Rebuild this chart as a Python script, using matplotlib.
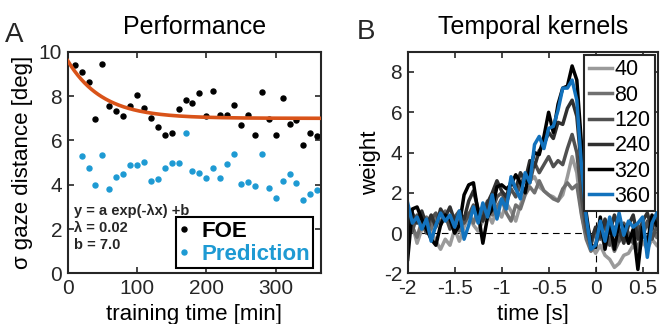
import numpy as np
import matplotlib
matplotlib.use("Agg")
import matplotlib.pyplot as plt

plt.rcParams["font.family"] = ["Liberation Sans", "DejaVu Sans"]
plt.rcParams["axes.unicode_minus"] = False

# === Panel A data ===
train_time = [10, 20, 30, 40, 50, 60, 70, 80, 90, 100, 110, 120, 130, 140, 150, 160, 170, 180,
              190, 200, 210, 220, 230, 240, 250, 260, 270, 280, 290, 300, 310, 320, 330, 340, 350, 360]
foe = [9.40, 9.07, 8.62, 6.95, 9.44, 7.55, 7.31, 7.09, 7.57, 8.05, 7.46, 7.00, 6.59, 6.27, 6.36, 7.41,
       7.83, 7.69, 8.15, 7.09, 8.24, 7.14, 7.14, 7.61, 6.72, 7.13, 6.24, 8.17, 6.98, 6.24, 7.91, 6.75,
       6.92, 5.79, 6.36, 6.21]
pred_time = train_time[1:]
prediction = [5.28, 4.78, 3.97, 5.35, 3.79, 4.33, 4.47, 4.89, 4.89, 5.02, 4.17, 4.24, 4.75, 4.98,
              4.98, 6.32, 4.63, 4.54, 4.29, 4.78, 4.29, 4.93, 5.37, 4.02, 4.14, 3.94, 5.40, 3.85,
              3.42, 4.17, 4.50, 4.06, 3.33, 3.57, 3.76]
fit_a, fit_lambda, fit_b = 2.6, 0.02, 7.0

# === Panel B data ===
kernel_t = np.round(np.arange(-2.0, 0.70, 0.05), 2)
kernel_labels = ["40", "80", "120", "240", "320", "360"]
k40 = [-0.3, 0.4, -0.5, 0.2, 0.7, 0.1, -0.4, -0.8, -0.3, -0.6, 0.2, -0.4, 0.3, 0.9, 0.4, 0.1, 0.6, 1.0,
       0.5, 1.2, 0.8, 1.5, 1.1, 0.6, 1.4, 2.0, 2.6, 2.8, 2.3, 2.1, 1.9, 1.8, 1.6, 1.9, 2.8, 3.8, 3.0, 1.0,
       -0.2, -0.5, -1.0, -0.6, -1.1, -1.3, -1.7, -1.5, -1.1, -1.0, -0.6, -1.0, -0.4, -0.8, -0.3, -0.6]
k80 = [0.9, 0.3, -0.2, 0.6, 0.8, 0.2, 0.9, 0.5, 1.1, 0.4, 0.7, 0.1, 0.6, 1.0, 0.5, 1.2, 0.7, 1.4,
       0.9, 1.3, 1.7, 1.0, 0.6, 1.4, 1.2, 1.9, 2.3, 2.0, 2.6, 2.1, 1.9, 1.7, 1.6, 2.2, 2.5, 2.2, 2.4, 0.9,
       -0.3, -0.9, -0.6, 0.1, -0.7, -0.2, -0.9, -0.4, 0.2, -0.5, -0.1, -0.8, 0.0, -0.4, 0.3, -0.2]
k120 = [0.6, 0.1, 0.9, 0.5, 0.0, 0.7, 1.0, 0.4, 0.9, 0.2, 0.8, 1.1, 0.5, 0.9, 1.4, 0.6, 1.0, 1.6,
        1.1, 1.8, 2.0, 1.5, 2.2, 1.8, 2.4, 2.9, 2.5, 3.5, 3.0, 3.4, 3.8, 3.3, 3.6, 3.4, 4.2, 4.9, 4.0, 1.8,
        0.1, -0.6, 0.2, -0.3, 0.5, -0.6, 0.3, -0.4, 0.5, 0.0, -0.5, 0.4, -0.2, 0.6, -0.3, 0.3]
k240 = [0.2, 1.0, 0.5, 1.1, 0.4, 0.9, 0.3, 1.2, 0.8, 1.3, 0.6, 1.0, 0.7, 1.6, 2.1, 1.2, 0.6, 1.5,
        2.0, 2.6, 2.1, 1.8, 2.6, 2.2, 3.0, 2.6, 3.6, 3.3, 4.1, 4.4, 5.0, 4.7, 5.5, 5.4, 6.2, 6.6, 5.8, 3.2,
        0.6, -0.4, 0.3, -0.2, 0.7, 0.0, 0.9, 0.2, -0.5, 0.4, 0.9, -0.3, 0.6, 1.0, 0.2, 0.8]
k320 = [-1.3, 1.2, 1.3, 0.7, 0.2, -0.3, -0.6, 0.4, 0.9, 0.7, 0.0, 0.4, 1.9, 2.4, 2.5, 1.0, -0.5, 0.8,
        1.2, 2.3, 2.4, 2.2, 2.4, 2.9, 2.5, 2.0, 3.2, 4.0, 3.9, 4.8, 6.0, 5.0, 6.4, 7.2, 7.3, 8.3, 7.6, 4.4,
        1.0, -0.6, -0.7, 0.8, -0.8, 0.5, -0.8, 0.6, 0.3, -0.5, 0.2, -1.8, 0.3, -0.6, 0.9, 0.4]
k360 = [1.5, 0.5, 0.8, 0.2, 0.7, -0.4, 0.4, 1.0, 0.6, 0.9, 0.3, 1.1, -0.3, 0.4, 1.3, 0.5, 1.5, 0.8,
        1.9, 0.7, 1.7, 1.2, 2.8, 2.2, 1.7, 3.0, 2.5, 4.4, 4.8, 4.2, 5.2, 5.3, 6.1, 7.2, 7.2, 7.6, 6.6, 3.3,
        0.8, -0.8, -0.6, 0.6, -0.4, 0.8, -0.1, 1.0, -0.1, 0.6, 0.3, 0.5, 0.8, -1.2, 0.5, 1.0]
kernels = [k40, k80, k120, k240, k320, k360]
kernel_colors = ["#9a9a9a", "#707070", "#505050", "#303030", "#000000", "#1272bd"]

frame = "#262626"
blue_pts = "#1e9ad3"

fig = plt.figure(figsize=(6.6, 3.24), dpi=100)
axA = fig.add_axes([0.1026, 0.156, 0.3833, 0.684])
axB = fig.add_axes([0.6177, 0.156, 0.3797, 0.684])

# === Panel A ===
axA.plot(train_time, foe, "o", color="black", markersize=3.6, label="FOE")
axA.plot(pred_time, prediction, "o", color=blue_pts, markersize=3.6, label="Prediction")
xfit = np.linspace(0, 365, 300)
axA.plot(xfit, fit_a * np.exp(-fit_lambda * xfit) + fit_b, color="#d95319", lw=2.6, zorder=3)
axA.set_xlim(0, 365)
axA.set_ylim(0, 10)
axA.set_xticks([0, 100, 200, 300])
axA.set_yticks([0, 2, 4, 6, 8, 10])
axA.set_title("Performance", fontsize=18, pad=13)
axA.set_xlabel("training time [min]", fontsize=16, labelpad=4)
axA.set_ylabel("σ gaze distance [deg]", fontsize=16, labelpad=4)
axA.text(0.025, 0.315, "y = a exp(-λx) +b\nλ = 0.02\nb = 7.0", transform=axA.transAxes,
         fontsize=10.5, fontweight="bold", color="#262626", va="top", linespacing=1.3)
legA = axA.legend(loc="lower right", bbox_to_anchor=(0.97, 0.023),
                  prop={"weight": "bold", "size": 16}, handlelength=0.5, handletextpad=0.5,
                  borderpad=0.15, labelspacing=0.1, fancybox=False, framealpha=1,
                  edgecolor="black", borderaxespad=0)
legA.get_frame().set_linewidth(1.5)
for txt, c in zip(legA.get_texts(), ["black", blue_pts]):
    txt.set_color(c)

# === Panel B ===
axB.axhline(0, color="black", lw=0.8, ls=(0, (6, 4)), zorder=1)
axB.axvline(0, color="black", lw=0.8, ls=(0, (6, 4)), zorder=1)
for vals, c, lab in zip(kernels, kernel_colors, kernel_labels):
    axB.plot(kernel_t, vals, color=c, lw=2.5, label=lab, solid_joinstyle="round", zorder=2)
axB.set_xlim(-2, 0.667)
axB.set_ylim(-2, 9)
axB.set_xticks([-2, -1.5, -1, -0.5, 0, 0.5])
axB.set_xticklabels(["-2", "-1.5", "-1", "-0.5", "0", "0.5"])
axB.set_yticks([-2, 0, 2, 4, 6, 8])
axB.set_title("Temporal kernels", fontsize=18, pad=13)
axB.set_xlabel("time [s]", fontsize=16, labelpad=4)
axB.set_ylabel("weight", fontsize=16, labelpad=2)
legB = axB.legend(loc="upper right", bbox_to_anchor=(0.987, 0.985), fontsize=15.5,
                  handlelength=1.1, handletextpad=0.1, borderpad=0.2, labelspacing=0.2,
                  fancybox=False, framealpha=1, edgecolor=frame, borderaxespad=0)
legB.get_frame().set_linewidth(1.5)

for ax in (axA, axB):
    ax.tick_params(direction="in", top=True, right=True, labelsize=15, length=4,
                   width=1.2, color=frame, labelcolor=frame, pad=4)
    for s in ax.spines.values():
        s.set_linewidth(1.5)
        s.set_color(frame)

fig.text(0.008, 0.87, "A", fontsize=20, color=frame, va="baseline")
fig.text(0.541, 0.88, "B", fontsize=20, color=frame, va="baseline")

plt.savefig("out.png", dpi=100)
